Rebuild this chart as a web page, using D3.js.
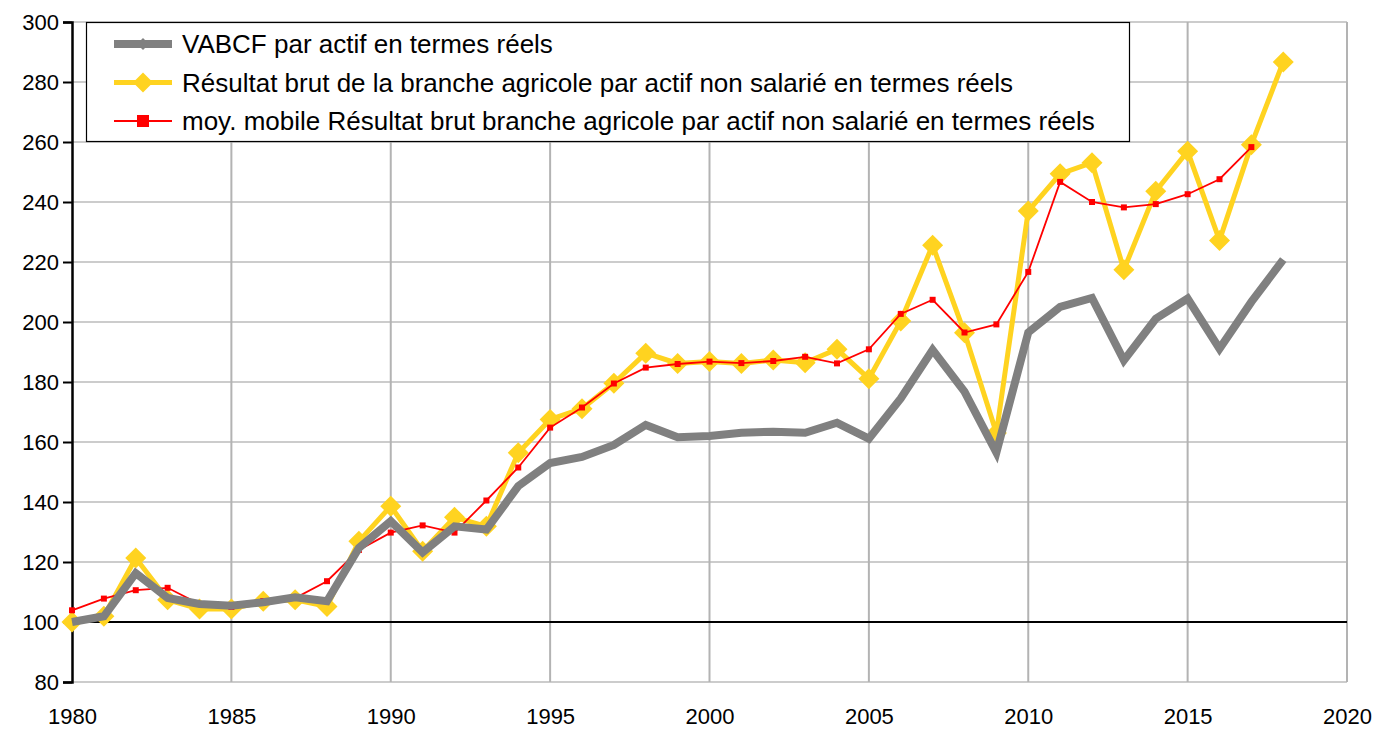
<!DOCTYPE html>
<html>
<head>
<meta charset="utf-8">
<script src="https://cdn.jsdelivr.net/npm/d3@7"></script>
<style>
  html, body { margin: 0; padding: 0; background: #fff; }
  svg { display: block; font-family: "Liberation Sans", Arial, sans-serif; }
</style>
</head>
<body>
<div id="chart"></div>
<script>
// years and series (index 100 in 1980)
const years = d3.range(1980, 2019);
const vabcf = [100, 101.9, 116.3, 108, 106, 105.4, 106.6, 108.2, 106.9, 124.7,
  133.6, 123.2, 131.9, 130.8, 145.3, 153, 155, 159, 165.7, 161.6,
  162, 163.1, 163.4, 163.1, 166.4, 161.1, 174.5, 190.7, 176.8, 156.5,
  196.5, 205, 208, 187.2, 201.1, 207.8, 191.1, 206.7, 220.8];
const resultat = [100, 101.9, 121.3, 107.4, 104.3, 104.3, 106.9, 107.4, 105.2, 126.9,
  138.6, 123.6, 134.9, 131.9, 156.4, 167.5, 171.1, 179.6, 189.6, 186.2,
  186.8, 186.2, 187.3, 186.4, 190.9, 181.1, 200.3, 225.6, 196.4, 163,
  237, 249.4, 253.1, 217.4, 243.6, 256.9, 227.2, 259.1, 286.7];
// moving average stops at 2017
const moyMobile = [103.9, 107.8, 110.6, 111.4, 106, 105, 107, 108, 113.6, 124,
  129.8, 132.2, 129.8, 140.5, 151.5, 164.8, 171.5, 179.5, 184.8, 186,
  186.8, 186.3, 187, 188.4, 186.2, 190.9, 202.7, 207.4, 196.5, 199.2,
  216.7, 246.7, 240, 238.2, 239.3, 242.6, 247.6, 258.3];

const xTicks = d3.range(1980, 2021, 5);
const yTicks = d3.range(80, 301, 20);
const legendLabels = [
  "VABCF par actif en termes réels",
  "Résultat brut de la branche agricole par actif non salarié en termes réels",
  "moy. mobile Résultat brut branche agricole par actif non salarié en termes réels"
];

const WIDTH = 1394, HEIGHT = 735;
const M = { left: 72, right: 47, top: 22, bottom: 53 };

const svg = d3.select("#chart").append("svg")
  .attr("width", WIDTH).attr("height", HEIGHT);

const x = d3.scaleLinear().domain([1980, 2020]).range([M.left, WIDTH - M.right]);
const y = d3.scaleLinear().domain([80, 300]).range([HEIGHT - M.bottom, M.top]);

// grid
const grid = svg.append("g");
grid.selectAll("line.h").data(yTicks).join("line")
  .attr("class", "h")
  .attr("x1", x(1980)).attr("x2", x(2020))
  .attr("y1", d => y(d)).attr("y2", d => y(d))
  .attr("stroke", "#cccccc").attr("stroke-width", 2);
grid.selectAll("line.v").data(xTicks.slice(1)).join("line")
  .attr("class", "v")
  .attr("x1", d => x(d)).attr("x2", d => x(d))
  .attr("y1", y(80)).attr("y2", y(300))
  .attr("stroke", "#b3b3b3").attr("stroke-width", 2);

// base line at 100
svg.append("line")
  .attr("x1", x(1980)).attr("x2", x(2020))
  .attr("y1", y(100)).attr("y2", y(100))
  .attr("stroke", "#000").attr("stroke-width", 2);

// y axis
const gY = svg.append("g").attr("transform", `translate(${x(1980)},0)`)
  .call(d3.axisLeft(y).tickValues(yTicks).tickSize(9).tickPadding(4).tickFormat(d3.format("d")));
gY.select(".domain").attr("stroke", "#000").attr("stroke-width", 2.5);
gY.selectAll(".tick line").attr("stroke", "#000").attr("stroke-width", 2);
gY.selectAll(".tick text").attr("font-size", 22).attr("fill", "#000")
  .attr("font-family", "Liberation Sans, Arial, sans-serif");

// x axis (labels only)
const gX = svg.append("g").attr("transform", `translate(0,${y(80)})`)
  .call(d3.axisBottom(x).tickValues(xTicks).tickSize(0).tickPadding(26).tickFormat(d3.format("d")));
gX.select(".domain").remove();
gX.selectAll(".tick text").attr("font-size", 22).attr("fill", "#000")
  .attr("font-family", "Liberation Sans, Arial, sans-serif");

const diamond = r => `M0,${-r}L${r},0L0,${r}L${-r},0Z`;
const square = s => `M${-s},${-s}H${s}V${s}H${-s}Z`;

const lineGen = d3.line().x(d => x(d[0])).y(d => y(d[1]));
const seriesYellow = years.map((yr, i) => [yr, resultat[i]]);
const seriesGrey = years.map((yr, i) => [yr, vabcf[i]]);
const seriesRed = moyMobile.map((v, i) => [years[i], v]);

// yellow
svg.append("path").datum(seriesYellow).attr("d", lineGen)
  .attr("fill", "none").attr("stroke", "#ffd320").attr("stroke-width", 5)
  .attr("stroke-linejoin", "miter");
svg.append("g").selectAll("path").data(seriesYellow).join("path")
  .attr("transform", d => `translate(${x(d[0])},${y(d[1])})`)
  .attr("d", diamond(10.5)).attr("fill", "#ffd320");

// red
svg.append("path").datum(seriesRed).attr("d", lineGen)
  .attr("fill", "none").attr("stroke", "#ff0000").attr("stroke-width", 1.8);
svg.append("g").selectAll("path").data(seriesRed).join("path")
  .attr("transform", d => `translate(${x(d[0])},${y(d[1])})`)
  .attr("d", square(3)).attr("fill", "#ff0000");

// grey
svg.append("path").datum(seriesGrey).attr("d", lineGen)
  .attr("fill", "none").attr("stroke", "#808080").attr("stroke-width", 8)
  .attr("stroke-linejoin", "miter");

// legend
const lg = svg.append("g");
lg.append("rect").attr("x", 86.5).attr("y", 22.5).attr("width", 1043).attr("height", 119)
  .attr("fill", "#fff").attr("stroke", "#000").attr("stroke-width", 1.2);
const legendStyles = [
  { color: "#808080", width: 8, marker: diamond(6) },
  { color: "#ffd320", width: 5, marker: diamond(10) },
  { color: "#ff0000", width: 1.8, marker: square(6) }
];
legendLabels.forEach((lab, i) => {
  const cy = 44 + i * 38.5;
  const st = legendStyles[i];
  lg.append("line").attr("x1", 114).attr("x2", 172).attr("y1", cy).attr("y2", cy)
    .attr("stroke", st.color).attr("stroke-width", st.width);
  lg.append("path").attr("transform", `translate(143,${cy})`).attr("d", st.marker).attr("fill", st.color);
  lg.append("text").attr("x", 182).attr("y", cy).attr("dy", "0.36em")
    .attr("font-size", 26).attr("fill", "#000").text(lab);
});
</script>
</body>
</html>
